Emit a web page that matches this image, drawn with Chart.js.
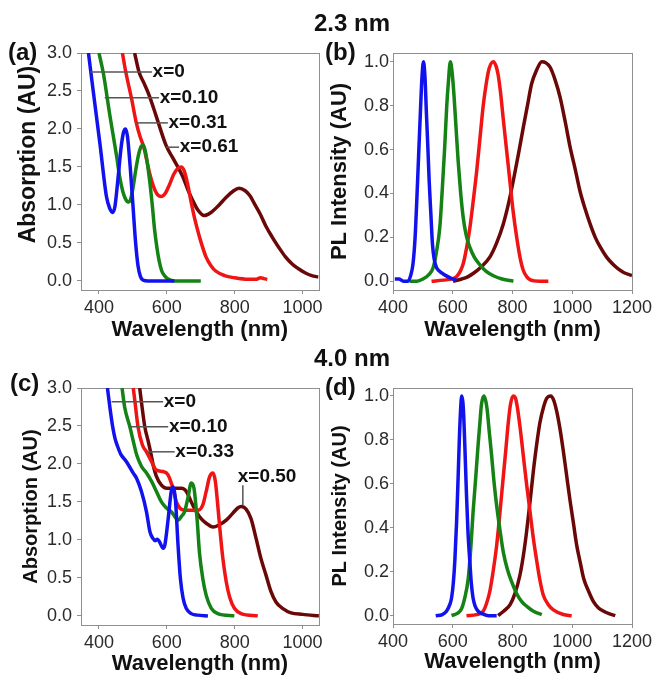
<!DOCTYPE html>
<html><head><meta charset="utf-8">
<script src="https://cdn.jsdelivr.net/npm/chart.js@4/dist/chart.umd.min.js"></script>
<style>
body{margin:0;background:#fff;width:663px;height:690px;position:relative;overflow:hidden;font-family:"Liberation Sans",Arial,sans-serif}
canvas{position:absolute;display:block}
.lbl{position:absolute;font-weight:bold;font-size:24px;color:#111;line-height:1;white-space:nowrap;z-index:2}
.ttl{transform:translate(-50%,-50%)}
</style></head><body>
<div class="lbl ttl" style="left:352px;top:23px">2.3 nm</div>
<div class="lbl ttl" style="left:352px;top:358px">4.0 nm</div>
<div class="lbl" style="left:8px;top:40px">(a)</div>
<div class="lbl" style="left:325px;top:40px">(b)</div>
<div class="lbl" style="left:10px;top:371px">(c)</div>
<div class="lbl" style="left:325px;top:375px">(d)</div>
<canvas id="ca" width="326" height="320" style="left:0;top:30px"></canvas>
<canvas id="cb" width="337" height="320" style="left:326px;top:30px"></canvas>
<canvas id="cc" width="326" height="325" style="left:0;top:365px"></canvas>
<canvas id="cd" width="337" height="325" style="left:326px;top:365px"></canvas>
<script>
// ---- tick labels ----
const xTicksAbs = [400, 600, 800, 1000];
const yTicksAbs = [0.0, 0.5, 1.0, 1.5, 2.0, 2.5, 3.0];
const xTicksPL = [400, 600, 800, 1000, 1200];
const yTicksPL = [0.0, 0.2, 0.4, 0.6, 0.8, 1.0];

// ---- (a) absorption, 2.3 nm : [wavelength nm, absorption] ----
const absA_x0 = [[369,3.0],[383,2.5],[403,1.8],[422,1.11],[432,0.95],[440,0.9],[447,0.98],[455,1.3],[465,1.75],[472,1.95],[478,2.0],[484,1.9],[492,1.5],[500,1.0],[508,0.5],[515,0.2],[522,0.06],[530,0.01],[545,0.0],[622,0.0]];
const absA_x10 = [[400,3.0],[413,2.73],[432,2.18],[452,1.64],[461,1.37],[470,1.18],[478,1.08],[486,1.04],[493,1.07],[500,1.22],[508,1.45],[516,1.65],[524,1.77],[530,1.79],[537,1.7],[549,1.33],[557,1.0],[564,0.67],[571,0.43],[577,0.27],[585,0.13],[593,0.07],[605,0.02],[625,0.0],[700,0.0]];
const absA_x31 = [[469,3.0],[479,2.75],[496,2.4],[510,2.08],[521,1.9],[532,1.76],[549,1.42],[560,1.25],[570,1.15],[583,1.11],[595,1.15],[608,1.27],[620,1.4],[632,1.48],[642,1.5],[651,1.45],[661,1.28],[671,1.05],[681,0.84],[690,0.68],[700,0.52],[715,0.32],[730,0.2],[744,0.13],[770,0.07],[800,0.04],[840,0.02],[862,0.02],[876,0.04],[886,0.03],[896,0.02]];
const absA_x61 = [[505,3.0],[518,2.75],[533,2.6],[549,2.43],[570,2.15],[598,1.78],[620,1.6],[647,1.37],[662,1.2],[676,1.06],[692,0.93],[710,0.86],[730,0.9],[754,1.0],[775,1.1],[795,1.18],[813,1.22],[830,1.19],[845,1.12],[860,1.0],[875,0.88],[892,0.72],[910,0.58],[930,0.44],[949,0.32],[970,0.22],[988,0.16],[1010,0.1],[1027,0.07],[1047,0.05]];
const labelsA = ['x=0', 'x=0.10', 'x=0.31', 'x=0.61'];

// ---- (b) PL, 2.3 nm ----
const plB_x0 = [[406,0.01],[420,0.01],[435,0.0],[450,0.0],[460,0.03],[467,0.08],[474,0.2],[480,0.38],[486,0.58],[492,0.78],[497,0.93],[502,1.0],[507,0.93],[512,0.76],[517,0.6],[521,0.46],[527,0.3],[532,0.17],[538,0.1],[545,0.064],[556,0.045],[568,0.033],[585,0.02],[601,0.01],[612,0.005]];
const plB_x10 = [[456,0.0],[480,0.0],[500,0.01],[520,0.03],[534,0.06],[545,0.13],[557,0.25],[565,0.42],[573,0.61],[580,0.8],[585,0.9],[592,1.0],[598,0.95],[604,0.85],[611,0.7],[618,0.55],[626,0.41],[635,0.29],[645,0.21],[657,0.155],[672,0.11],[691,0.075],[712,0.045],[736,0.025],[765,0.01],[803,0.0]];
const plB_x31 = [[529,0.0],[570,0.005],[600,0.012],[613,0.022],[625,0.045],[635,0.08],[646,0.15],[657,0.24],[668,0.36],[680,0.5],[691,0.65],[702,0.8],[712,0.9],[722,0.97],[736,1.0],[745,0.98],[752,0.94],[760,0.86],[769,0.74],[780,0.6],[791,0.46],[802,0.32],[814,0.2],[825,0.11],[836,0.05],[848,0.02],[860,0.006],[890,0.0],[920,0.0]];
const plB_x61 = [[601,0.0],[630,0.01],[650,0.02],[668,0.035],[695,0.065],[724,0.11],[747,0.175],[769,0.26],[786,0.35],[803,0.46],[820,0.58],[836,0.7],[850,0.8],[864,0.9],[880,0.96],[898,1.0],[912,0.995],[926,0.975],[942,0.92],[959,0.84],[976,0.73],[993,0.61],[1010,0.51],[1026,0.41],[1043,0.33],[1060,0.26],[1077,0.2],[1094,0.155],[1115,0.11],[1138,0.075],[1155,0.055],[1172,0.04],[1200,0.026]];

// ---- (c) absorption, 4.0 nm ----
const absC_x0 = [[425,3.0],[432,2.75],[440,2.5],[447,2.34],[455,2.23],[464,2.13],[481,2.03],[501,1.88],[511,1.81],[525,1.64],[540,1.37],[550,1.11],[559,1.02],[566,0.99],[572,1.01],[579,0.97],[589,0.89],[594,0.93],[604,1.28],[613,1.64],[618,1.7],[625,1.55],[633,0.93],[640,0.49],[648,0.23],[657,0.1],[672,0.03],[690,0.01],[721,0.0]];
const absC_x10 = [[468,3.0],[476,2.74],[491,2.49],[501,2.3],[511,2.12],[525,1.97],[540,1.88],[555,1.77],[569,1.64],[584,1.5],[599,1.42],[613,1.37],[623,1.31],[633,1.26],[643,1.31],[652,1.37],[662,1.55],[672,1.75],[680,1.68],[689,1.28],[696,0.84],[706,0.49],[716,0.27],[731,0.1],[750,0.03],[799,0.0]];
const absC_x33 = [[501,3.0],[506,2.82],[515,2.49],[528,2.25],[540,2.16],[555,2.03],[569,1.92],[589,1.9],[603,1.86],[618,1.68],[628,1.5],[638,1.42],[652,1.39],[672,1.39],[692,1.39],[706,1.46],[716,1.64],[726,1.83],[736,1.88],[743,1.77],[750,1.46],[757,1.11],[765,0.76],[775,0.45],[785,0.25],[799,0.1],[819,0.03],[868,0.0]];
const absC_x50 = [[520,3.0],[525,2.82],[535,2.49],[545,2.3],[552,2.16],[560,1.98],[569,1.84],[584,1.72],[599,1.68],[618,1.68],[643,1.68],[657,1.64],[672,1.5],[687,1.37],[701,1.28],[716,1.22],[736,1.17],[755,1.2],[775,1.26],[794,1.35],[809,1.42],[819,1.44],[833,1.41],[848,1.28],[863,1.02],[877,0.76],[892,0.54],[907,0.32],[922,0.18],[941,0.1],[966,0.04],[1000,0.02],[1049,0.0]];
const labelsC = ['x=0', 'x=0.10', 'x=0.33', 'x=0.50'];

// ---- (d) PL, 4.0 nm ----
const plD_x0 = [[543,0.0],[565,0.005],[579,0.02],[590,0.05],[596,0.08],[602,0.15],[607,0.25],[613,0.43],[618,0.63],[622,0.8],[626,0.93],[630,1.0],[634,0.97],[637,0.9],[641,0.75],[646,0.55],[651,0.38],[657,0.25],[662,0.15],[668,0.08],[676,0.04],[685,0.02],[700,0.008],[720,0.0],[747,0.0]];
const plD_x10 = [[596,0.0],[615,0.01],[629,0.03],[640,0.08],[652,0.17],[660,0.3],[668,0.47],[677,0.63],[685,0.78],[691,0.88],[696,0.96],[704,1.0],[710,0.98],[715,0.94],[722,0.84],[730,0.73],[738,0.61],[747,0.5],[758,0.39],[769,0.29],[783,0.21],[797,0.155],[814,0.1],[831,0.064],[850,0.04],[870,0.02],[898,0.005]];
const plD_x33 = [[646,0.0],[680,0.005],[702,0.02],[713,0.055],[724,0.11],[735,0.2],[747,0.32],[758,0.47],[769,0.63],[778,0.76],[786,0.88],[793,0.96],[802,1.0],[810,0.99],[816,0.95],[826,0.85],[836,0.73],[847,0.6],[859,0.47],[870,0.35],[881,0.25],[892,0.16],[903,0.094],[920,0.05],[937,0.026],[970,0.005],[998,0.0]];
const plD_x50 = [[752,0.0],[770,0.02],[792,0.05],[808,0.1],[825,0.185],[836,0.27],[847,0.38],[858,0.51],[870,0.66],[881,0.78],[892,0.88],[904,0.95],[915,0.99],[928,1.0],[938,0.98],[948,0.93],[959,0.85],[970,0.75],[981,0.64],[993,0.52],[1004,0.42],[1015,0.32],[1027,0.24],[1038,0.17],[1055,0.11],[1071,0.064],[1088,0.035],[1105,0.02],[1125,0.008],[1144,0.0]];

const COLORS = ['#1212ee', '#148214', '#f01414', '#6a0808'];
const FONT = 'Liberation Sans, Arial, sans-serif';

const boxPlugin = {
  id: 'box',
  beforeDatasetsDraw(chart) {
    const {ctx, chartArea: a} = chart;
    ctx.save();
    ctx.strokeStyle = '#8f8f8f'; ctx.lineWidth = 1;
    ctx.strokeRect(Math.round(a.left) + 0.5, Math.round(a.top) + 0.5, Math.round(a.right - a.left), Math.round(a.bottom - a.top));
    ctx.restore();
  }
};
const notePlugin = {
  id: 'notes',
  afterDatasetsDraw(chart, args, opts) {
    if (!opts.items) return;
    const {ctx, scales: {x, y}} = chart;
    ctx.save();
    ctx.strokeStyle = '#555'; ctx.lineWidth = 1.5;
    ctx.fillStyle = '#111';
    ctx.font = 'bold 19px ' + FONT;
    for (const it of opts.items) {
      ctx.beginPath();
      ctx.moveTo(x.getPixelForValue(it.line[0]), y.getPixelForValue(it.line[1]));
      ctx.lineTo(x.getPixelForValue(it.line[2]), y.getPixelForValue(it.line[3]));
      ctx.stroke();
      ctx.textAlign = it.align || 'left';
      ctx.textBaseline = 'middle';
      ctx.fillText(it.text, x.getPixelForValue(it.tx), y.getPixelForValue(it.ty));
    }
    ctx.restore();
  }
};

function ds(data, i) {
  return {data: data.map(p => ({x: p[0], y: p[1]})), borderColor: COLORS[i], borderWidth: 3.5,
    pointRadius: 0, tension: 0.4, cubicInterpolationMode: 'monotone', fill: false};
}

function makeChart(id, p) {
  new Chart(document.getElementById(id), {
    type: 'line',
    data: {datasets: p.series.map((s, i) => ds(s, i))},
    plugins: [boxPlugin, notePlugin],
    options: {
      responsive: false, animation: false, devicePixelRatio: 1,
      layout: {padding: {left: 0, top: 23, right: p.padRight, bottom: 0}},
      plugins: {legend: {display: false}, tooltip: {enabled: false}, notes: {items: p.notes || null}},
      scales: {
        x: {
          type: 'linear', min: p.xMin, max: p.xMax,
          afterBuildTicks: s => { s.ticks = p.xTicks.map(v => ({value: v})); },
          afterFit: s => { s.height = p.xH; },
          grid: {drawOnChartArea: false, drawTicks: true, tickLength: 4, color: '#8f8f8f'},
          border: {display: false},
          ticks: {font: {family: FONT, size: 18}, color: '#2a2a2a', padding: 3, maxRotation: 0, callback: v => String(v)},
          title: {display: true, text: 'Wavelength (nm)', color: '#111', font: {family: FONT, size: 22, weight: 'bold'}, padding: {top: 0, bottom: p.xTitlePad}}
        },
        y: {
          type: 'linear', min: p.yMin, max: p.yMax,
          afterBuildTicks: s => { s.ticks = p.yTicks.map(v => ({value: v})); },
          afterFit: s => { s.width = p.areaLeft; },
          grid: {drawOnChartArea: false, drawTicks: true, tickLength: p.yTickLen, color: '#8f8f8f'},
          border: {display: false},
          ticks: {font: {family: FONT, size: 18}, color: '#2a2a2a', padding: p.yTickPad, callback: v => Number(v).toFixed(1)},
          title: {display: true, text: p.yTitle, color: '#111', align: p.yAlign, font: {family: FONT, size: p.yTitleSize, weight: 'bold'}, padding: {top: p.yTitlePad, bottom: 0}}
        }
      }
    }
  });
}

makeChart('ca', {
  series: [absA_x0, absA_x10, absA_x31, absA_x61],
  xMin: 347, xMax: 1047, xTicks: xTicksAbs, yMin: -0.12, yMax: 3.0, yTicks: yTicksAbs,
  areaLeft: 81, padRight: 6, xH: 60, xTitlePad: 7,
  yTitle: 'Absorption (AU)  ', yTitleSize: 23, yTitlePad: 15, yAlign: 'end', yTickLen: 4, yTickPad: 5,
  notes: [
    {text: labelsA[0], line: [375, 2.75, 556, 2.75], tx: 558, ty: 2.75},
    {text: labelsA[1], line: [417, 2.41, 577, 2.41], tx: 579, ty: 2.41},
    {text: labelsA[2], line: [510, 2.08, 603, 2.08], tx: 605, ty: 2.08},
    {text: labelsA[3], line: [598, 1.76, 636, 1.76], tx: 638, ty: 1.76}
  ]
});
makeChart('cb', {
  series: [plB_x0, plB_x10, plB_x31, plB_x61],
  xMin: 400, xMax: 1200, xTicks: xTicksPL, yMin: -0.04, yMax: 1.04, yTicks: yTicksPL,
  areaLeft: 67, padRight: 31, xH: 60, xTitlePad: 7,
  yTitle: 'PL Intensity (AU)', yTitleSize: 22, yTitlePad: 1, yAlign: 'center', yTickLen: 3, yTickPad: 1
});
makeChart('cc', {
  series: [absC_x0, absC_x10, absC_x33, absC_x50],
  xMin: 347, xMax: 1048, xTicks: xTicksAbs, yMin: -0.12, yMax: 3.0, yTicks: yTicksAbs,
  areaLeft: 81, padRight: 6, xH: 65, xTitlePad: 13,
  yTitle: 'Absorption (AU)', yTitleSize: 20, yTitlePad: 19, yAlign: 'center', yTickLen: 4, yTickPad: 5,
  notes: [
    {text: labelsC[0], line: [437, 2.82, 589, 2.82], tx: 591, ty: 2.82},
    {text: labelsC[1], line: [491, 2.49, 604, 2.49], tx: 606, ty: 2.49},
    {text: labelsC[2], line: [540, 2.16, 623, 2.16], tx: 625, ty: 2.16},
    {text: labelsC[3], line: [824, 1.72, 824, 1.46], tx: 809, ty: 1.83}
  ]
});
makeChart('cd', {
  series: [plD_x0, plD_x10, plD_x33, plD_x50],
  xMin: 400, xMax: 1200, xTicks: xTicksPL, yMin: -0.038, yMax: 1.036, yTicks: yTicksPL,
  areaLeft: 67, padRight: 31, xH: 66, xTitlePad: 15,
  yTitle: 'PL Intensity (AU)', yTitleSize: 20, yTitlePad: 2, yAlign: 'center', yTickLen: 3, yTickPad: 1
});
</script>
</body></html>
